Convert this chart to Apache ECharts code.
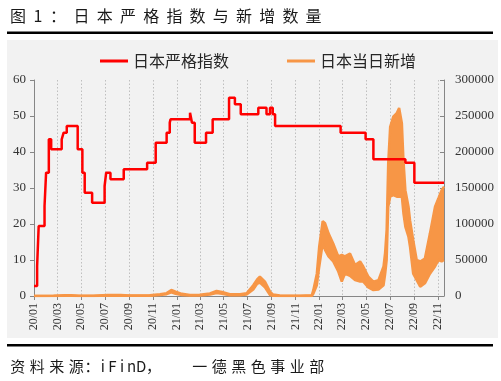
<!DOCTYPE html>
<html><head><meta charset="utf-8">
<script src="https://cdn.jsdelivr.net/npm/echarts@6/dist/echarts.min.js"></script>
<style>html,body{margin:0;padding:0;background:#fff}#c{width:501px;height:381px}</style>
</head><body><div id="c"></div>
<script>
const titleText = '图 1：日本严格指数与新增数量';
const sourceText = '资料来源：iFinD，一德黑色事业部';
const seriesNames = ['日本严格指数', '日本当日新增'];
const firstDay = '2020-01-01';
const lastDay = '2022-11-17';

const stringencyDates = ['2020-01-01','2020-01-09','2020-01-13','2020-01-28','2020-02-01','2020-02-08','2020-02-14','2020-03-12','2020-03-17','2020-03-25','2020-04-22','2020-05-04','2020-05-10','2020-05-29','2020-06-30','2020-07-04','2020-07-15','2020-08-18','2020-10-17','2020-11-08','2020-12-06','2020-12-14','2020-12-16','2021-02-04','2021-02-09','2021-02-16','2021-03-17','2021-04-03','2021-05-15','2021-05-30','2021-06-14','2021-07-29','2021-08-19','2021-08-28','2021-09-04','2021-09-10','2022-02-25','2022-04-30','2022-05-20','2022-08-10','2022-09-02','2022-11-17'];
const stringencyValues = [2.78,8.33,19.44,25.00,34.26,43.52,40.74,43.52,45.37,47.22,40.74,34.26,28.70,25.93,30.56,34.26,32.41,35.19,37.04,42.59,45.37,48.15,49.07,50.93,48.15,42.59,45.37,49.07,55.09,53.24,50.46,52.31,50.46,52.31,50.46,47.22,45.37,43.52,37.96,37.04,31.48,31.48];

const caseDates = ['2020-01-01','2020-02-20','2020-03-20','2020-04-05','2020-04-25','2020-06-01','2020-07-08','2020-08-10','2020-09-02','2020-10-24','2020-11-19','2020-12-06','2020-12-18','2020-12-29','2021-01-14','2021-02-04','2021-03-01','2021-03-27','2021-04-13','2021-04-27','2021-05-17','2021-06-12','2021-06-29','2021-07-16','2021-07-26','2021-08-02','2021-08-15','2021-08-28','2021-09-05','2021-09-22','2021-10-02','2021-10-05','2021-10-08','2021-11-13','2021-12-13','2021-12-17','2021-12-26','2022-01-01','2022-01-10','2022-01-16','2022-01-25','2022-02-06','2022-02-19','2022-02-28','2022-03-08','2022-03-21','2022-04-03','2022-04-16','2022-04-24','2022-05-07','2022-05-20','2022-06-02','2022-06-15','2022-06-19','2022-06-23','2022-06-27','2022-07-02','2022-07-10','2022-07-19','2022-07-25','2022-08-01','2022-08-05','2022-08-10','2022-08-18','2022-08-22','2022-08-30','2022-09-08','2022-09-17','2022-09-29','2022-10-12','2022-10-25','2022-11-03','2022-11-11','2022-11-17'];
const caseLow = [0,0,300,300,100,0,600,500,300,500,1500,2500,5000,3000,1500,700,800,2000,4000,3000,1000,1200,2000,9000,17000,18500,12000,1400,300,100,100,400,100,50,100,3000,15000,40000,73000,64000,55000,48000,34000,20000,31000,28000,22000,20000,20000,12000,8300,9000,15000,30000,50000,124000,138000,140000,138000,138000,138000,115000,96000,82000,68000,31000,22000,13000,17600,31000,41000,50000,48000,50000];
const caseHigh = [0,200,900,900,400,200,1500,1300,700,1200,2500,4000,8300,6000,3000,1500,1800,3500,7000,5500,2500,2500,3700,15000,23000,26900,20000,6000,2000,600,500,2500,500,300,1000,8000,31000,68000,104000,101000,87000,73000,55000,57000,55000,59000,43000,48000,41000,27000,20000,22000,41000,60000,92000,184000,235000,249000,254000,261000,240000,189000,147000,124000,105000,78000,50000,48000,52000,87000,124000,136000,147000,152000];

const leftAxisMax = 60, leftAxisStep = 10;
const rightAxisMax = 300000, rightAxisStep = 50000;

const RED = '#ff0000', ORANGE = '#f79646';
const categories = [];
for (let t = Date.parse(firstDay + 'T00:00:00Z'); t <= Date.parse(lastDay + 'T00:00:00Z'); t += 86400000) {
  categories.push(new Date(t).toISOString().slice(0, 10));
}
const isTick = (i, v) => v.slice(8) === '01' && (+v.slice(5, 7)) % 2 === 1;
const labelFont = 'Liberation Serif';
const cjkFont = 'Noto Sans CJK SC';

// spaced-out text: each character in its own fixed-width box
function spaced(str) {
  return str.split('').map((ch, i) => '{c' + i + '|' + ch + '}').join('');
}
function spacedRich(str, widthOf, padOf, size) {
  const rich = {};
  str.split('').forEach((ch, i) => {
    rich['c' + i] = {width: widthOf(ch, i), padding: padOf(ch), align: 'center',
      fontSize: size, fontFamily: cjkFont, color: '#1a1a1a'};
  });
  return rich;
}
const titleWidth = (ch, i) => i === 0 ? 20 : ch === ' ' ? 2 : ch === '1' ? 16 : ch === '：' ? 24 : 23.2;
const noPad = () => [0, 0, 0, 0];
const sourceWidth = (ch) => ch === '：' ? 12 : ch === '，' ? 15 : /[A-Za-z]/.test(ch) ? 9.6 : 19.5;
const sourcePad = (ch) => ch === '，' ? [0, 29, 0, 0] : [0, 0, 0, 0];

const chart = echarts.init(document.getElementById('c'), null, {renderer: 'canvas'});
chart.setOption({
  backgroundColor: '#ffffff',
  animation: false,
  graphic: [
    {type: 'rect', z: -10, shape: {x: 7, y: 40, width: 491, height: 298}, style: {fill: '#f2f2f2'}},
    {type: 'rect', shape: {x: 7, y: 31.5, width: 486, height: 2.5}, style: {fill: '#000'}},
    {type: 'rect', shape: {x: 7, y: 344, width: 486, height: 2.5}, style: {fill: '#000'}}
  ],
  title: [
    {text: spaced(titleText), left: 8, top: 8, padding: 0,
     textStyle: {fontSize: 16, fontWeight: 'normal', color: '#1a1a1a', fontFamily: cjkFont,
       rich: spacedRich(titleText, titleWidth, noPad, 16)}},
    {text: spaced(sourceText), left: 8, top: 359, padding: 0,
     textStyle: {fontSize: 15, fontWeight: 'normal', color: '#1a1a1a', fontFamily: cjkFont,
       rich: spacedRich(sourceText, sourceWidth, sourcePad, 15)}}
  ],
  legend: {
    data: seriesNames, left: 95, top: 48, itemWidth: 28, itemHeight: 3, itemGap: 58, icon: 'rect',
    textStyle: {fontSize: 16, color: '#262626', fontFamily: cjkFont}
  },
  grid: {left: 34, right: 57, top: 80, bottom: 85},
  xAxis: {
    type: 'category', data: categories, boundaryGap: false,
    axisLine: {lineStyle: {color: '#868686', width: 1}},
    axisTick: {interval: isTick, length: 4, lineStyle: {color: '#868686'}},
    axisLabel: {interval: isTick, rotate: 90, margin: 7, fontSize: 12, color: '#333', fontFamily: labelFont,
      formatter: v => v.slice(2, 4) + '/' + v.slice(5, 7)},
    splitLine: {show: true, interval: isTick, lineStyle: {color: '#bfbfbf', type: [1.5, 2], width: 1}}
  },
  yAxis: [
    {type: 'value', min: 0, max: leftAxisMax, interval: leftAxisStep,
     axisLine: {show: true, lineStyle: {color: '#868686'}},
     axisTick: {show: true, length: 4, lineStyle: {color: '#868686'}},
     axisLabel: {margin: 8, fontSize: 13, color: '#333', fontFamily: labelFont, formatter: v => String(v)},
     splitLine: {show: false}},
    {type: 'value', min: 0, max: rightAxisMax, interval: rightAxisStep, position: 'right',
     axisLine: {show: true, lineStyle: {color: '#868686'}},
     axisTick: {show: true, inside: true, length: 4, lineStyle: {color: '#868686'}},
     axisLabel: {margin: 11, fontSize: 13, color: '#333', fontFamily: labelFont, formatter: v => String(v)},
     splitLine: {show: false}}
  ],
  series: [
    {name: seriesNames[0], type: 'line', step: 'end', z: 5, symbol: 'none',
     data: stringencyDates.map((d, i) => [d, stringencyValues[i]]),
     itemStyle: {color: RED}, lineStyle: {color: RED, width: 2.5}},
    {name: '日本当日新增下沿', type: 'line', yAxisIndex: 1, stack: 'cases', z: 3, symbol: 'none',
     data: caseDates.map((d, i) => [d, caseLow[i]]),
     itemStyle: {color: ORANGE}, lineStyle: {color: ORANGE, width: 2.5}},
    {name: seriesNames[1], type: 'line', yAxisIndex: 1, stack: 'cases', z: 3, symbol: 'none',
     data: caseDates.map((d, i) => [d, caseHigh[i] - caseLow[i]]),
     itemStyle: {color: ORANGE}, lineStyle: {color: ORANGE, width: 2.5},
     areaStyle: {color: ORANGE, opacity: 1}}
  ]
});
</script></body></html>
